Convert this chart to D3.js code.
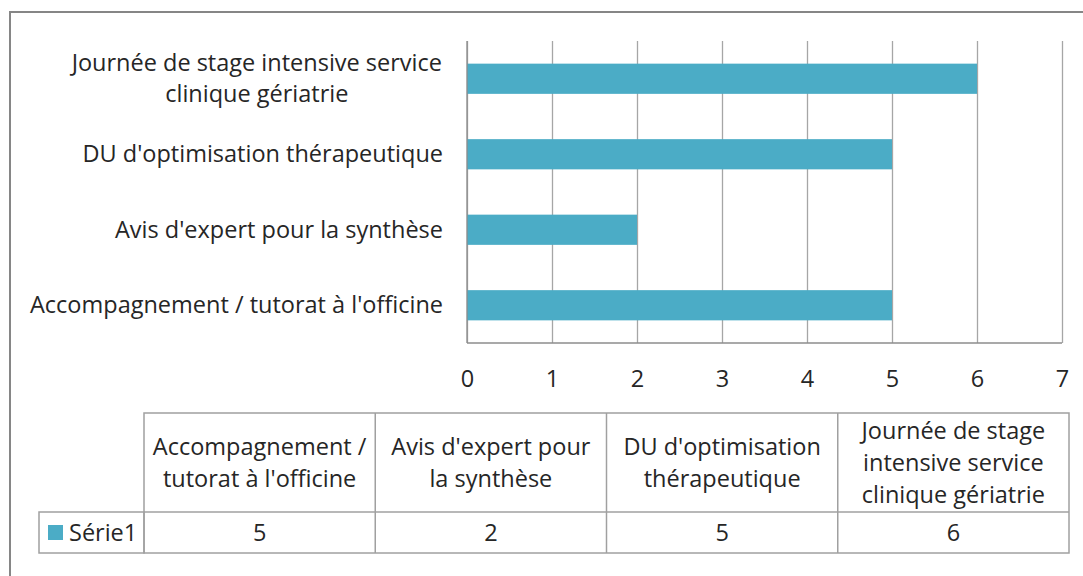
<!DOCTYPE html>
<meta charset="utf-8">
<script src="https://d3js.org/d3.v7.min.js"></script>
<style>
  body { margin: 0; background: #fff; }
  text { font-family: "Open Sans", sans-serif; fill: #262626; }
</style>
<div id="chart"></div>
<script>
  // data
  const categories = ["Accompagnement / tutorat à l'officine", "Avis d'expert pour la synthèse",
    "DU d'optimisation thérapeutique", "Journée de stage intensive service clinique gériatrie"];
  const values = [5, 2, 5, 6];
  const seriesName = "Série1";
  const xTicks = [0, 1, 2, 3, 4, 5, 6, 7];
  // how the names are broken on the axis and in the table
  const axisLines = [["Accompagnement / tutorat à l'officine"], ["Avis d'expert pour la synthèse"],
    ["DU d'optimisation thérapeutique"], ["Journée de stage intensive service", "clinique gériatrie"]];
  const tableLines = [["Accompagnement /", "tutorat à l'officine"], ["Avis d'expert pour", "la synthèse"],
    ["DU d'optimisation", "thérapeutique"], ["Journée de stage", "intensive service", "clinique gériatrie"]];

  const barColor = "#4BACC6";
  const gridColor = "#a6a6a6";
  const fs = "23.5px";

  const W = 1083, H = 576;
  const plot = { left: 467, right: 1062, top: 41, bottom: 343 };

  const svg = d3.select("#chart").append("svg")
    .attr("width", W).attr("height", H);

  // outer frame
  svg.append("rect")
    .attr("x", 10).attr("y", 12)
    .attr("width", W + 10).attr("height", H + 10)
    .attr("fill", "none").attr("stroke", "#868686").attr("stroke-width", 2);

  const x = d3.scaleLinear().domain([0, 7]).range([plot.left, plot.right]);
  const y = d3.scaleBand()
    .domain(categories.slice().reverse())
    .range([plot.top, plot.bottom])
    .paddingInner(0.6).paddingOuter(0.3);

  // gridlines
  svg.append("g")
    .attr("transform", `translate(0, ${plot.bottom})`)
    .call(d3.axisBottom(x).tickValues(xTicks).tickSize(-(plot.bottom - plot.top)).tickFormat(""))
    .call(g => g.select(".domain").remove())
    .selectAll("line").attr("stroke", gridColor).attr("stroke-width", 1.3);

  // bars
  svg.selectAll("rect.bar")
    .data(categories)
    .join("rect")
    .attr("class", "bar")
    .attr("x", x(0))
    .attr("y", d => y(d))
    .attr("width", (d, i) => x(values[i]) - x(0))
    .attr("height", y.bandwidth())
    .attr("fill", barColor);

  // axis lines
  svg.append("line")
    .attr("x1", x(0)).attr("x2", x(0)).attr("y1", plot.top).attr("y2", plot.bottom)
    .attr("stroke", "#8c8c8c").attr("stroke-width", 1.3);
  svg.append("line")
    .attr("x1", x(0)).attr("x2", x(7)).attr("y1", plot.bottom).attr("y2", plot.bottom)
    .attr("stroke", "#8c8c8c").attr("stroke-width", 1.3);

  // x tick labels
  svg.append("g")
    .attr("transform", `translate(0, ${plot.bottom})`)
    .call(d3.axisBottom(x).tickValues(xTicks).tickFormat(d3.format("d")).tickSize(0).tickPadding(27))
    .call(g => g.select(".domain").remove())
    .selectAll("text")
    .style("font-size", fs)
    .style("font-family", "Open Sans")
    .attr("fill", "#262626");

  // category labels
  const lh = 31;
  svg.append("g").selectAll("text")
    .data(categories)
    .join("text")
    .attr("text-anchor", "middle")
    .style("font-size", fs)
    .each(function (d, i) {
      const lines = axisLines[i];
      const t = d3.select(this);
      const cy = y(d) + y.bandwidth() / 2 - (lines.length - 1) * lh / 2;
      lines.forEach((l, k) => {
        t.append("tspan").attr("x", 0).attr("y", cy + k * lh).attr("dy", "0.35em").text(l);
      });
      // right-align the block, lines centred within it
      const w = this.getBBox().width;
      t.selectAll("tspan").attr("x", 443 - w / 2);
    });

  // data table
  const table = { left: 144, right: 1069, top: 413, mid: 512, bottom: 553, legendLeft: 39 };
  const col = d3.scaleBand().domain(categories).range([table.left, table.right]);
  const tg = svg.append("g");
  const tableStroke = "#a0a0a0";

  tg.append("rect")
    .attr("x", table.left).attr("y", table.top)
    .attr("width", table.right - table.left).attr("height", table.bottom - table.top)
    .attr("fill", "none").attr("stroke", tableStroke).attr("stroke-width", 1.5);
  tg.append("rect")
    .attr("x", table.legendLeft).attr("y", table.mid)
    .attr("width", table.left - table.legendLeft).attr("height", table.bottom - table.mid)
    .attr("fill", "none").attr("stroke", tableStroke).attr("stroke-width", 1.5);
  tg.append("line")
    .attr("x1", table.left).attr("x2", table.right).attr("y1", table.mid).attr("y2", table.mid)
    .attr("stroke", tableStroke).attr("stroke-width", 1.5);
  tg.selectAll("line.col")
    .data(categories.slice(1))
    .join("line")
    .attr("class", "col")
    .attr("x1", d => col(d)).attr("x2", d => col(d))
    .attr("y1", table.top).attr("y2", table.bottom)
    .attr("stroke", tableStroke).attr("stroke-width", 1.5);

  // header texts
  const hlh = 32;
  tg.selectAll("text.head")
    .data(categories)
    .join("text")
    .attr("class", "head")
    .attr("text-anchor", "middle")
    .style("font-size", fs)
    .each(function (d, i) {
      const lines = tableLines[i];
      const cy = (table.top + table.mid) / 2 - (lines.length - 1) * hlh / 2;
      lines.forEach((l, k) => {
        d3.select(this).append("tspan")
          .attr("x", col(d) + col.bandwidth() / 2)
          .attr("y", cy + k * hlh).attr("dy", "0.35em").text(l);
      });
    });

  // value texts
  tg.selectAll("text.val")
    .data(categories)
    .join("text")
    .attr("class", "val")
    .attr("text-anchor", "middle")
    .attr("x", d => col(d) + col.bandwidth() / 2)
    .attr("y", (table.mid + table.bottom) / 2)
    .attr("dy", "0.35em")
    .style("font-size", fs)
    .text((d, i) => values[i]);

  // legend key
  tg.append("rect")
    .attr("x", 48).attr("y", 525).attr("width", 15).attr("height", 15)
    .attr("fill", barColor);
  tg.append("text")
    .attr("x", 69).attr("y", (table.mid + table.bottom) / 2).attr("dy", "0.35em")
    .style("font-size", fs)
    .text(seriesName);
</script>
